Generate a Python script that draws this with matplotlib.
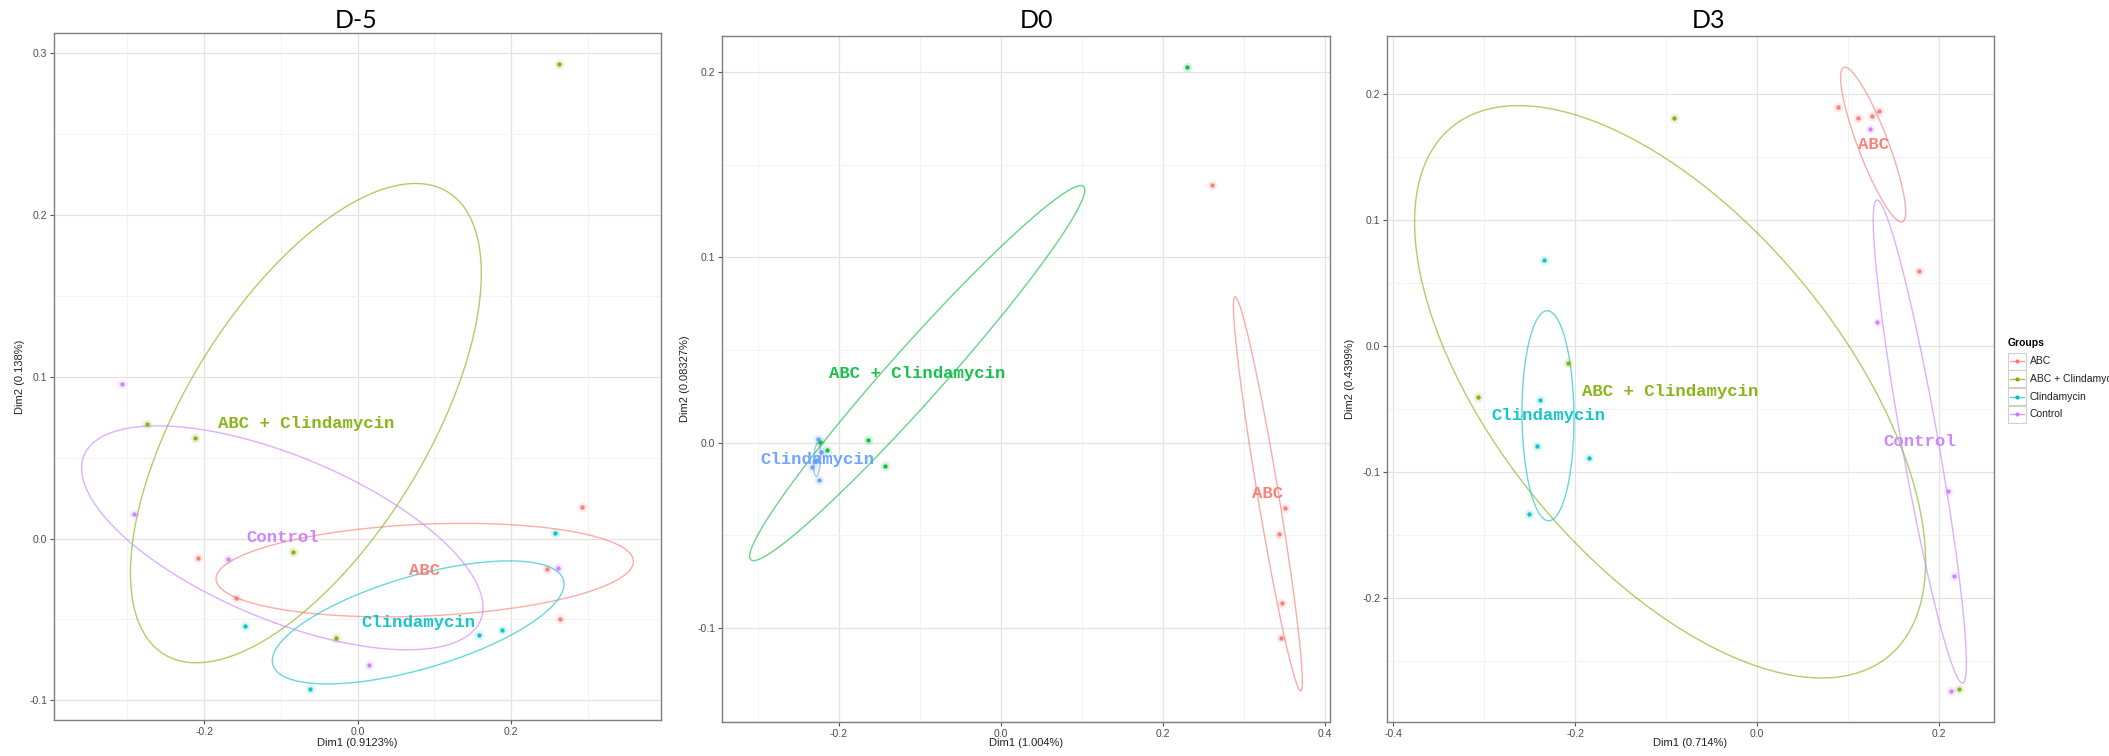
import numpy as np
import matplotlib
matplotlib.use('Agg')
import matplotlib.pyplot as plt
from matplotlib.ticker import MultipleLocator, FormatStrFormatter
from matplotlib.lines import Line2D
from matplotlib.patches import Rectangle

plt.rcParams['axes.unicode_minus'] = False
plt.rcParams['font.family'] = ['Liberation Sans', 'DejaVu Sans']

# ---- data (PCA scores per group) ----
groups4 = ["ABC", "ABC + Clindamycin", "Clindamycin", "Control"]
colors4 = ["#F8766D", "#7CAE00", "#00BFC4", "#C77CFF"]
groups3 = ["ABC", "ABC + Clindamycin", "Clindamycin"]
colors3 = ["#F8766D", "#00BA38", "#619CFF"]

# D-5
d5_abc_x = [0.2927, -0.208, -0.159, 0.247, 0.264]
d5_abc_y = [0.0195, -0.0118, -0.0369, -0.0188, -0.0495]
d5_combo_x = [0.262, -0.275, -0.212, -0.0845, -0.0278]
d5_combo_y = [0.293, 0.0708, 0.0623, -0.0081, -0.0615]
d5_clinda_x = [0.257, -0.147, 0.1575, 0.188, -0.0616]
d5_clinda_y = [0.0035, -0.054, -0.0594, -0.0563, -0.0928]
d5_control_x = [-0.307, -0.2917, -0.169, 0.2614, 0.0154]
d5_control_y = [0.0957, 0.0153, -0.0124, -0.0184, -0.078]

# D0
d0_abc_x = [0.2605, 0.3507, 0.3441, 0.3474, 0.3466]
d0_abc_y = [0.1388, -0.0355, -0.0494, -0.0868, -0.1052]
d0_combo_x = [0.2297, -0.2144, -0.164, -0.143, -0.223]
d0_combo_y = [0.2026, -0.0041, 0.0014, -0.0126, 0.0002]
d0_clinda_x = [-0.2255, -0.222, -0.2325, -0.228, -0.2245]
d0_clinda_y = [0.002, -0.005, -0.013, -0.010, -0.020]

# D3
d3_abc_x = [0.089, 0.111, 0.1256, 0.1336, 0.1773]
d3_abc_y = [0.1897, 0.1813, 0.1826, 0.1866, 0.0597]
d3_combo_x = [-0.0909, -0.2074, -0.3063, 0.2219]
d3_combo_y = [0.1808, -0.0135, -0.0402, -0.2726]
d3_clinda_x = [-0.2337, -0.2389, -0.2415, -0.1844, -0.2504]
d3_clinda_y = [0.068, -0.0429, -0.0794, -0.0892, -0.1336]
d3_control_x = [0.1238, 0.1313, 0.2091, 0.2164, 0.2124]
d3_control_y = [0.1726, 0.0194, -0.1154, -0.1828, -0.2739]

panels = [
    ("D-5", "Dim1 (0.9123%)", "Dim2 (0.138%)", groups4, colors4,
     [(d5_abc_x, d5_abc_y), (d5_combo_x, d5_combo_y),
      (d5_clinda_x, d5_clinda_y), (d5_control_x, d5_control_y)]),
    ("D0", "Dim1 (1.004%)", "Dim2 (0.08327%)", groups3, colors3,
     [(d0_abc_x, d0_abc_y), (d0_combo_x, d0_combo_y),
      (d0_clinda_x, d0_clinda_y)]),
    ("D3", "Dim1 (0.714%)", "Dim2 (0.4399%)", groups4, colors4,
     [(d3_abc_x, d3_abc_y), (d3_combo_x, d3_combo_y),
      (d3_clinda_x, d3_clinda_y), (d3_control_x, d3_control_y)]),
]

CHI2_95 = 5.991  # 95% confidence ellipse around the group mean


def conf_ellipse(x, y, npts=300):
    x = np.asarray(x)
    y = np.asarray(y)
    cov = np.cov(x, y) / len(x) * CHI2_95
    vals, vecs = np.linalg.eigh(cov)
    t = np.linspace(0, 2 * np.pi, npts)
    circ = np.vstack([np.cos(t), np.sin(t)])
    pts = vecs @ (np.sqrt(np.clip(vals, 0, None))[:, None] * circ)
    return x.mean() + pts[0], y.mean() + pts[1]


W, H = 2109, 756
fig = plt.figure(figsize=(W / 100, H / 100), dpi=100)

# axes boxes in pixels: left, right, top, bottom
boxes = [(54, 661, 33, 720), (722, 1330, 36, 722), (1387, 1994, 36, 722)]
title_pos = [(356, 20), (1036, 21), (1709, 20)]
ylab_x = [25, 690, 1355]

for (title, xlab, ylab, names, cols, data), box, tpos, ylx in zip(
        panels, boxes, title_pos, ylab_x):
    l, r, t, b = box
    ax = fig.add_axes([l / W, 1 - b / H, (r - l) / W, (b - t) / H])
    allx, ally = [], []
    for (gx, gy), name, c in zip(data, names, cols):
        ex, ey = conf_ellipse(gx, gy)
        ax.plot(ex, ey, color=c, lw=1.0, alpha=0.6, zorder=3)
        ax.scatter(gx, gy, s=50, color=c, alpha=0.15, lw=0, zorder=4)
        ax.scatter(gx, gy, s=10, color=c, lw=0, alpha=0.9, zorder=5)
        ax.text(np.mean(gx), np.mean(gy), name, color=c, ha='center', va='center',
                family='Liberation Mono', weight='bold', fontsize=12.5,
                alpha=0.9, zorder=6)
        allx += list(gx) + list(ex)
        ally += list(gy) + list(ey)
    x0, x1 = min(allx), max(allx)
    y0, y1 = min(ally), max(ally)
    dx, dy = 0.05 * (x1 - x0), 0.05 * (y1 - y0)
    ax.set_xlim(x0 - dx, x1 + dx)
    ax.set_ylim(y0 - dy, y1 + dy)

    ax.xaxis.set_major_locator(MultipleLocator(0.2))
    ax.xaxis.set_minor_locator(MultipleLocator(0.1))
    ax.yaxis.set_major_locator(MultipleLocator(0.1))
    ax.yaxis.set_minor_locator(MultipleLocator(0.05))
    ax.xaxis.set_major_formatter(FormatStrFormatter('%.1f'))
    ax.yaxis.set_major_formatter(FormatStrFormatter('%.1f'))
    ax.grid(which='major', color='#E3E3E3', lw=0.9)
    ax.grid(which='minor', color='#F3F3F3', lw=0.7)
    ax.set_axisbelow(True)
    ax.tick_params(which='major', length=3, width=0.8, color='#555555',
                   labelsize=7.5, labelcolor='#4D4D4D', pad=2)
    ax.tick_params(which='minor', length=0)
    for s in ax.spines.values():
        s.set_color('#7F7F7F')
        s.set_linewidth(1.0)

    ax.set_xlabel(xlab, fontsize=8, color='#222222')
    ax.set_ylabel(ylab, fontsize=8, color='#222222')
    ax.xaxis.set_label_coords(0.5, (b - 738) / (b - t))
    ax.yaxis.set_label_coords((ylx - l) / (r - l), 0.5)

    fig.text(tpos[0] / W, 1 - tpos[1] / H, title, family=['Lato', 'DejaVu Sans'],
             fontsize=18, ha='center', va='center')

# legend (groups of D-5 / D3); the long entry runs off the right edge as in the source
lax = fig.add_axes([0, 0, 1, 1], facecolor='none')
lax.set_xlim(0, W)
lax.set_ylim(H, 0)
lax.axis('off')
lax.text(2008, 343, "Groups", fontsize=7.5, weight='bold', va='center', ha='left')
for i, (name, c) in enumerate(zip(groups4, colors4)):
    yc = 361 + i * 17.8
    lax.add_patch(Rectangle((2008, yc - 8.5), 18, 17, fill=False,
                            edgecolor='#D0D0D0', lw=0.8))
    lax.add_line(Line2D([2010, 2024], [yc, yc], color=c, lw=1.0, alpha=0.7))
    lax.plot([2017], [yc], 'o', color=c, ms=3, mew=0)
    lax.text(2030, yc, name, fontsize=7.5, va='center', ha='left', color='#222222',
             clip_on=True)

fig.savefig('out.png', dpi=100, facecolor='white')
